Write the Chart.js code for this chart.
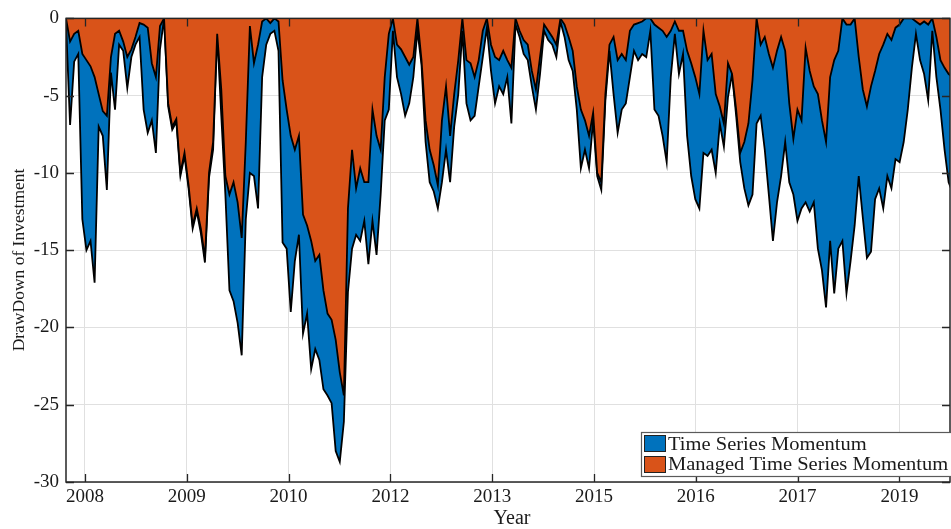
<!DOCTYPE html>
<html>
<head>
<meta charset="utf-8">
<script src="https://cdn.jsdelivr.net/npm/chart.js@4.4.1/dist/chart.umd.min.js"></script>
<style>
html,body{margin:0;padding:0;background:#fff;}
#wrap{width:951px;height:529px;position:relative;}
</style>
</head>
<body>
<div id="wrap"><canvas id="c" width="951" height="529"></canvas></div>
<script>
// x axis: observation position in "tick units" (tick k is the k-th labelled tick)
const X_START = -0.1866;
const X_STEP = 0.04014;
const X_MIN = -0.1866;
const X_MAX = 8.497;
const xTickPositions = [0, 1, 2, 3, 4, 5, 6, 7, 8];
const xTickLabels = ['2008', '2009', '2010', '2012', '2013', '2015', '2016', '2017', '2019'];
const yTickValues = [0, -5, -10, -15, -20, -25, -30];
const seriesNames = ['Time Series Momentum', 'Managed Time Series Momentum'];
const seriesColors = ['#0072BD', '#D95319'];

// Drawdown (%) of Time Series Momentum
const tsm = [
  -0.3,-6.9,-2.8,-2.3,-13.0,-15.0,-14.4,-17.1,-7.0,-7.6,
  -11.1,-3.5,-5.9,-1.7,-2.1,-4.5,-2.5,-1.7,-1.2,-5.9,
  -7.4,-6.6,-8.7,-2.0,0,-5.7,-7.2,-6.7,-10.2,-8.9,
  -11.0,-13.6,-12.5,-13.9,-15.8,-10.3,-8.5,-1.0,-6.3,-11.4,
  -17.6,-18.3,-19.7,-21.8,-13.0,-10.0,-10.2,-12.3,-3.8,-1.7,
  -1.0,-0.8,-2.1,-14.5,-14.9,-19.0,-15.7,-14.0,-20.4,-19.1,
  -22.7,-21.4,-22.1,-24.0,-24.4,-24.9,-28.0,-28.7,-26.1,-17.7,
  -14.9,-14.0,-14.4,-13.1,-15.9,-13.1,-15.3,-11.4,-6.6,-5.9,
  -0.8,-3.8,-4.9,-6.3,-5.5,-3.8,-0.8,-3.0,-8.0,-10.6,
  -11.2,-12.3,-10.6,-8.5,-10.6,-7.0,-4.9,-0.8,-5.5,-6.6,
  -6.3,-4.4,-2.5,-0.6,-3.4,-5.5,-4.4,-4.9,-3.8,-6.8,
  -0.4,-1.2,-2.3,-2.7,-4.4,-5.9,-3.6,-0.8,-1.4,-1.7,
  -2.5,-0.2,-1.2,-2.7,-3.4,-5.9,-9.7,-8.5,-9.7,-6.6,
  -10.2,-11.1,-5.3,-2.1,-4.9,-7.4,-5.9,-5.5,-3.8,-2.1,
  -2.7,-2.3,-2.5,-0.8,-5.9,-6.3,-7.6,-9.3,-3.8,-1.0,
  -3.6,-2.3,-7.6,-10.2,-11.7,-12.3,-8.7,-8.9,-8.5,-10.0,
  -6.8,-8.3,-5.1,-3.6,-6.3,-9.3,-11.0,-12.1,-11.4,-6.8,
  -6.3,-8.5,-11.4,-14.4,-11.9,-10.2,-8.0,-10.6,-11.4,-13.1,
  -12.3,-11.9,-12.5,-11.9,-14.9,-16.3,-18.7,-14.4,-17.8,-14.9,
  -14.4,-17.8,-15.7,-13.4,-10.2,-12.9,-15.5,-15.1,-11.7,-11.0,
  -12.3,-10.2,-11.0,-9.1,-9.3,-8.0,-5.9,-3.2,-1.0,-2.7,
  -3.6,-5.3,-0.8,-3.8,-5.9,-8.5,-10.6,-11.3
];

// Drawdown (%) of Managed Time Series Momentum
const managedTsm = [
  0,-1.5,-1.0,-0.8,-2.3,-2.7,-3.1,-3.8,-4.9,-6.0,
  -6.3,-2.5,-1.0,-0.8,-1.5,-2.5,-2.0,-1.2,-0.3,-0.4,
  -0.6,-2.9,-3.8,-0.5,0,-5.5,-7.0,-6.5,-10.0,-8.7,
  -10.8,-13.4,-12.3,-13.6,-15.5,-10.0,-8.0,-1.0,-4.6,-10.2,
  -11.4,-10.6,-11.9,-14.2,-8.0,-0.5,-2.9,-1.7,-0.2,0,
  -0.3,0,-0.2,-4.0,-5.9,-7.6,-8.5,-7.6,-12.7,-13.4,
  -14.4,-15.7,-15.3,-17.6,-19.1,-19.5,-20.8,-22.9,-24.4,-12.3,
  -8.5,-11.0,-9.7,-10.6,-10.6,-5.9,-7.6,-8.5,-3.8,-1.0,
  0,-1.7,-2.0,-2.5,-3.0,-2.5,0,-2.7,-6.6,-8.5,
  -9.5,-10.8,-6.6,-4.4,-7.6,-4.9,-2.7,0,-2.7,-2.9,
  -3.8,-2.7,-0.8,0,-1.7,-2.5,-2.7,-2.1,-2.7,-3.2,
  0,-0.8,-1.4,-1.7,-3.4,-4.6,-2.5,-0.4,-0.8,-1.2,
  -1.7,0,-0.4,-1.2,-2.1,-4.4,-5.9,-6.6,-7.6,-6.1,
  -10.0,-10.6,-4.9,-1.7,-1.2,-2.7,-2.3,-2.7,-0.8,-0.4,
  -0.3,-0.2,0,0,-0.4,-0.6,-0.8,-1.2,-0.8,-0.2,
  -0.8,-0.8,-2.1,-2.9,-3.8,-4.9,-0.8,-2.7,-2.3,-4.9,
  -5.7,-6.8,-2.9,-3.6,-5.9,-8.7,-8.0,-6.8,-4.0,0,
  -1.7,-1.2,-2.3,-3.2,-2.1,-1.2,-2.1,-5.5,-7.8,-5.9,
  -6.6,-1.9,-3.4,-4.4,-4.9,-6.6,-8.0,-3.8,-2.7,-2.1,
  0,-0.4,-0.4,0,-2.5,-4.6,-5.7,-4.4,-3.4,-2.3,
  -1.7,-1.0,-1.4,-0.6,-0.4,0,0,0,-0.2,-0.4,
  -0.2,-0.4,0,-1.2,-2.7,-3.2,-3.6,-3.8
];

const FONT = "'Liberation Serif', 'Times New Roman', serif";
const TEXT = '#1a1a1a';
const AXIS = '#262626';
const GRID = '#e0e0e0';

const toPoints = vals => vals.map((v, i) => ({ x: X_START + i * X_STEP, y: v }));

const decor = {
  id: 'decor',
  afterDatasetsDraw(chart) {
    const { ctx, chartArea: a, scales: { x, y } } = chart;
    ctx.save();
    ctx.strokeStyle = AXIS;
    ctx.lineWidth = 1.3;
    ctx.beginPath();
    const tl = 8;
    xTickPositions.forEach(v => {
      const px = Math.round(x.getPixelForValue(v)) + 0.5;
      ctx.moveTo(px, a.bottom); ctx.lineTo(px, a.bottom - tl);
      ctx.moveTo(px, a.top); ctx.lineTo(px, a.top + tl);
    });
    yTickValues.forEach(v => {
      const py = Math.round(y.getPixelForValue(v)) + 0.5;
      ctx.moveTo(a.left, py); ctx.lineTo(a.left + tl, py);
      ctx.moveTo(a.right, py); ctx.lineTo(a.right - tl, py);
    });
    ctx.stroke();
    ctx.lineWidth = 1.5;
    ctx.strokeRect(a.left, a.top, a.right - a.left, a.bottom - a.top);
    ctx.restore();
  },
  afterDraw(chart) {
    const { ctx } = chart;
    ctx.save();
    // axis titles
    ctx.fillStyle = TEXT;
    ctx.textAlign = 'center';
    ctx.textBaseline = 'middle';
    ctx.font = '20px ' + FONT;
    ctx.fillText('Year', 512, 519);
    ctx.save();
    ctx.translate(19, 260);
    ctx.rotate(-Math.PI / 2);
    ctx.font = '17.5px ' + FONT;
    ctx.fillText('DrawDown of Investment', 0, 0);
    ctx.restore();
    // legend box
    const bx = 641.5, by = 432.5, bw = 330, bh = 44;
    ctx.fillStyle = '#fff';
    ctx.fillRect(bx, by, bw, bh);
    ctx.strokeStyle = '#5a5a5a';
    ctx.lineWidth = 1.2;
    ctx.strokeRect(bx, by, bw, bh);
    const rows = [{ sy: 435.5, base: 450 }, { sy: 456.5, base: 469.5 }];
    rows.forEach((r, k) => {
      ctx.fillStyle = seriesColors[k];
      ctx.fillRect(644.5, r.sy, 21, 16);
      ctx.strokeStyle = '#222';
      ctx.lineWidth = 1;
      ctx.strokeRect(644.5, r.sy, 21, 16);
      ctx.save();
      ctx.translate(668, r.base);
      ctx.scale(1.14, 1);
      ctx.fillStyle = TEXT;
      ctx.textAlign = 'left';
      ctx.textBaseline = 'alphabetic';
      ctx.font = '18px ' + FONT;
      ctx.fillText(seriesNames[k], 0, 0);
      ctx.restore();
    });
    ctx.restore();
  }
};

new Chart(document.getElementById('c'), {
  type: 'line',
  data: {
    datasets: [
      {
        label: seriesNames[0],
        data: toPoints(tsm),
        backgroundColor: seriesColors[0],
        borderColor: '#000',
        borderWidth: 1.8,
        fill: 'origin',
        pointRadius: 0,
        tension: 0,
        order: 2
      },
      {
        label: seriesNames[1],
        data: toPoints(managedTsm),
        backgroundColor: seriesColors[1],
        borderColor: '#000',
        borderWidth: 1.8,
        fill: 'origin',
        pointRadius: 0,
        tension: 0,
        order: 1
      }
    ]
  },
  options: {
    responsive: false,
    animation: false,
    layout: { padding: { top: 12, right: 1, left: 0, bottom: 0 } },
    plugins: { legend: { display: false }, tooltip: { enabled: false } },
    scales: {
      x: {
        type: 'linear',
        min: X_MIN,
        max: X_MAX,
        afterBuildTicks: s => { s.ticks = xTickPositions.map(v => ({ value: v })); },
        afterFit: s => { s.height = 47; },
        ticks: {
          autoSkip: false,
          maxRotation: 0,
          padding: 4,
          color: TEXT,
          font: { family: FONT, size: 19 },
          callback: (v, i) => xTickLabels[i]
        },
        grid: { color: GRID, lineWidth: 1, drawTicks: false },
        border: { display: false }
      },
      y: {
        min: -30,
        max: 0,
        afterBuildTicks: s => { s.ticks = yTickValues.slice().reverse().map(v => ({ value: v })); },
        afterFit: s => { s.width = 66; },
        ticks: {
          padding: 7,
          color: TEXT,
          font: { family: FONT, size: 19 },
          callback: v => String(v)
        },
        grid: { color: GRID, lineWidth: 1, drawTicks: false },
        border: { display: false }
      }
    }
  },
  plugins: [decor]
});
</script>
</body>
</html>
